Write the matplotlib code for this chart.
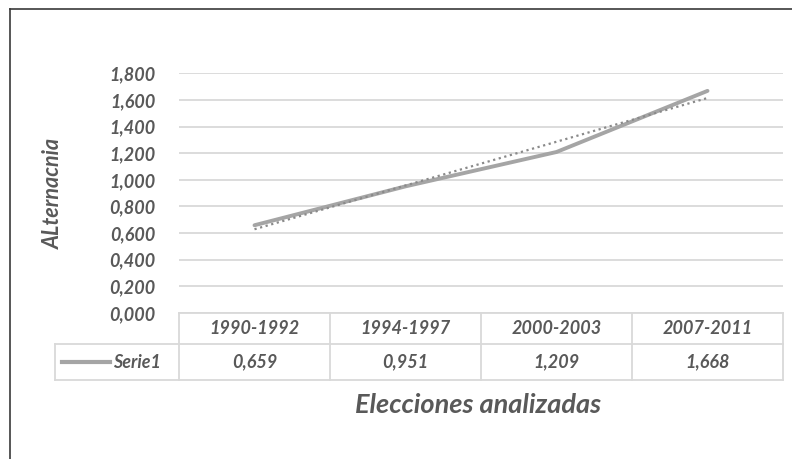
import matplotlib.pyplot as plt
import numpy as np
from matplotlib.lines import Line2D
import matplotlib.transforms as mtransforms

# Datos del grafico
periodos = ['1990-1992', '1994-1997', '2000-2003', '2007-2011']
serie1 = [0.659, 0.951, 1.209, 1.668]
ticks_y = [0.0, 0.2, 0.4, 0.6, 0.8, 1.0, 1.2, 1.4, 1.6, 1.8]

gris_txt = '#595959'
gris_rej = '#D9D9D9'
gris_lin = '#A5A5A5'
fuente = ['Lato', 'DejaVu Sans']

plt.rcParams['font.family'] = fuente

fig = plt.figure(figsize=(7.92, 4.59), dpi=100)
ax = fig.add_axes([179 / 792, 1 - 313 / 459, 604 / 792, (313 - 73.3) / 459])

x = np.arange(len(periodos)) + 0.5
ax.plot(x, serie1, color=gris_lin, lw=2.8, solid_capstyle='round', zorder=3)

# Linea de tendencia lineal
coef = np.polyfit(x, serie1, 1)
ax.plot(x, np.polyval(coef, x), color='#8A8A8A', lw=1.6, ls=(0, (1, 1.6)), zorder=4)

ax.set_xlim(0, len(periodos))
ax.set_ylim(0, 1.8)
ax.set_yticks(ticks_y)
ax.set_yticklabels([f'{v:.3f}'.replace('.', ',') for v in ticks_y],
                   fontsize=13, fontweight='bold', fontstyle='italic', color=gris_txt)
ax.tick_params(axis='y', length=0, pad=17)
ax.set_xticks([])
for s in ax.spines.values():
    s.set_visible(False)
ax.grid(axis='y', color=gris_rej, lw=1.3)
ax.set_axisbelow(True)

ax.set_ylabel('ALternacnia', fontsize=15.5, fontweight='bold', fontstyle='italic',
              color=gris_txt)
ax.yaxis.set_label_coords(-(179 - 64) / 604, 0.5)

# Tabla de datos bajo el eje
trans = mtransforms.blended_transform_factory(ax.transData, ax.transAxes)
h1 = -(344 - 313) / (313 - 73.3)
h2 = -(380 - 313) / (313 - 73.3)
xl = -124 / 151
kw = dict(color=gris_rej, lw=1.3, transform=trans, clip_on=False)
ax.add_line(Line2D([0, 4], [0, 0], **kw))
ax.add_line(Line2D([xl, 4], [h1, h1], **kw))
ax.add_line(Line2D([xl, 4], [h2, h2], **kw))
for i in range(len(periodos) + 1):
    ax.add_line(Line2D([i, i], [0, h2], **kw))
ax.add_line(Line2D([xl, xl], [h1, h2], **kw))

tkw = dict(fontsize=13, fontweight='bold', fontstyle='italic', color=gris_txt,
           transform=trans, ha='center', va='center')
for xi, p, v in zip(x, periodos, serie1):
    ax.text(xi, h1 / 2, p, **tkw)
    ax.text(xi, (h1 + h2) / 2, f'{v:.3f}'.replace('.', ','), **tkw)

ym = (h1 + h2) / 2
ax.add_line(Line2D([xl + 7 / 151, xl + 55 / 151], [ym, ym], color=gris_lin, lw=3,
                   transform=trans, clip_on=False))
ax.text(xl + 58 / 151, ym, 'Serie1', fontsize=13, fontweight='bold', fontstyle='italic',
        color=gris_txt, transform=trans, ha='left', va='center')

fig.text(478 / 792, 1 - 405 / 459, 'Elecciones analizadas', fontsize=19.5, fontstyle='italic',
         fontweight='bold', color=gris_txt, ha='center', va='center')

# Marco exterior
fig.add_artist(Line2D([10 / 792, 10 / 792], [0, 1 - 9 / 459], color='#3A3A3A', lw=1.2))
fig.add_artist(Line2D([10 / 792, 1], [1 - 9 / 459, 1 - 9 / 459], color='#3A3A3A', lw=1.2))

fig.savefig('out.png', dpi=100)
